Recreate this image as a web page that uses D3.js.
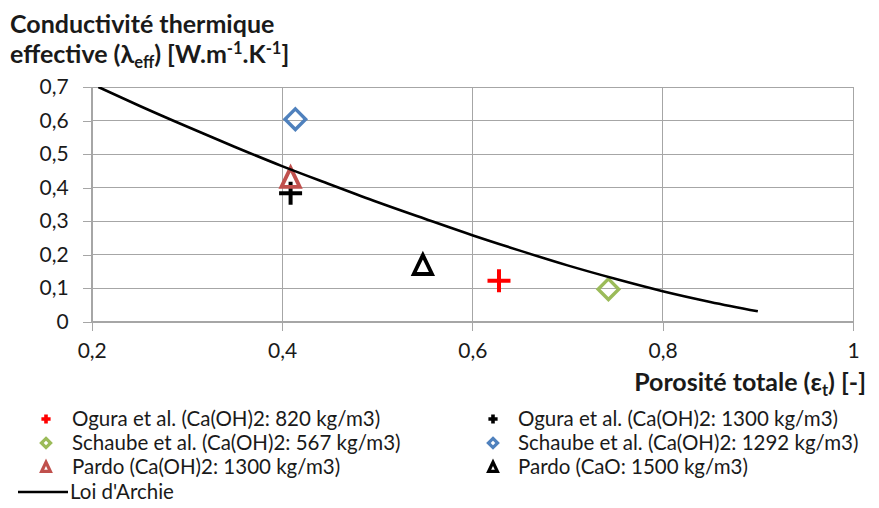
<!DOCTYPE html>
<html><head><meta charset="utf-8">
<script src="https://cdn.jsdelivr.net/npm/d3@7"></script>
<style>
html,body{margin:0;padding:0;background:#fff;}
svg{display:block;font-family:Lato, "Open Sans", sans-serif;}
</style></head>
<body>
<svg id="c" width="879" height="508"></svg>
<script>
// ---- data ----
const xTicks = [0.2, 0.4, 0.6, 0.8, 1];
const yTicks = [0, 0.1, 0.2, 0.3, 0.4, 0.5, 0.6, 0.7];

const seriesNames = [
  "Ogura et al. (Ca(OH)2: 820 kg/m3)",
  "Ogura et al. (Ca(OH)2: 1300 kg/m3)",
  "Schaube et al. (Ca(OH)2: 567 kg/m3)",
  "Schaube et al. (Ca(OH)2: 1292 kg/m3)",
  "Pardo (Ca(OH)2: 1300 kg/m3)",
  "Pardo (CaO: 1500 kg/m3)"
];
const seriesX = [0.628, 0.409, 0.743, 0.414, 0.409, 0.548];
const seriesY = [0.122, 0.383, 0.097, 0.604, 0.429, 0.169];
const seriesShape = ["cross", "cross", "diamond", "diamond", "triangle", "triangle"];
const seriesColor = ["#FF0000", "#000000", "#9BBB59", "#4F81BD", "#C0504D", "#000000"];

const archieName = "Loi d'Archie";
const archieX = [0.207, 0.25, 0.30, 0.35, 0.40, 0.45, 0.50, 0.55, 0.60, 0.65, 0.70, 0.75, 0.80, 0.85, 0.90];
const archieY = [0.700, 0.644, 0.582, 0.522, 0.464, 0.410, 0.357, 0.307, 0.258, 0.212, 0.168, 0.128, 0.091, 0.059, 0.031];

const titleLine1 = "Conductivité thermique";
const xTitle = "Porosité totale";

// ---- chart ----
const svg = d3.select("#c");
const x = d3.scaleLinear().domain([0.2, 1]).range([91.7, 853]);
const y = d3.scaleLinear().domain([0, 0.7]).range([321.7, 87]);
const fmt = d => String(d).replace(".", ",");
const grid = "#A6A6A6";
const ink = "#1a1a1a";

// grid
svg.append("g").selectAll("line").data(yTicks).join("line")
  .attr("x1", x(0.2)).attr("x2", x(1)).attr("y1", d => y(d)).attr("y2", d => y(d))
  .attr("stroke", grid).attr("stroke-width", 1).attr("shape-rendering", "crispEdges");
svg.append("g").selectAll("line").data(xTicks).join("line")
  .attr("y1", y(0)).attr("y2", y(0.7)).attr("x1", d => x(d)).attr("x2", d => x(d))
  .attr("stroke", grid).attr("stroke-width", 1).attr("shape-rendering", "crispEdges");

// axes
const yAxis = svg.append("g").attr("transform", `translate(${x(0.2)},0)`)
  .call(d3.axisLeft(y).tickValues(yTicks).tickFormat(fmt).tickSize(9).tickPadding(14));
const xAxis = svg.append("g").attr("transform", `translate(0,${y(0)})`)
  .call(d3.axisBottom(x).tickValues(xTicks).tickFormat(fmt).tickSize(9).tickPadding(12));
[yAxis, xAxis].forEach(a => {
  a.select(".domain").attr("stroke", grid).attr("shape-rendering", "crispEdges");
  a.selectAll(".tick line").attr("stroke", grid).attr("shape-rendering", "crispEdges");
  a.selectAll(".tick text").attr("font-size", 21).attr("fill", ink)
    .attr("font-family", "Lato, sans-serif");
});
xAxis.selectAll(".tick text").attr("dy", "0.71em");

// clip
svg.append("clipPath").attr("id", "pa").append("rect")
  .attr("x", x(0.2)).attr("y", y(0.7)).attr("width", x(1) - x(0.2)).attr("height", y(0) - y(0.7));

// markers
function drawMarker(g, shape, color, s, sw) {
  if (shape === "cross") {
    g.append("path").attr("d", `M${-s},0H${s}M0,${-s}V${s}`)
      .attr("stroke", color).attr("stroke-width", sw).attr("fill", "none");
  } else if (shape === "diamond") {
    g.append("path").attr("d", `M0,${-s}L${s},0L0,${s}L${-s},0Z`)
      .attr("stroke", color).attr("stroke-width", sw).attr("fill", "none");
  } else {
    const h = s * 0.95;
    g.append("path").attr("d", `M0,${-h}L${s * 0.87},${h * 0.9}L${-s * 0.87},${h * 0.9}Z`)
      .attr("stroke", color).attr("stroke-width", sw).attr("fill", "none")
      .attr("stroke-linejoin", "miter");
  }
}
const plotSize = {cross: [11.5, 4], diamond: [10.3, 3.4], triangle: [10.5, 3.8]};
const legSize = {cross: [4.6, 3.6], diamond: [4.6, 3.2], triangle: [5, 3.2]};

const ptsG = svg.append("g");
seriesNames.forEach((n, i) => {
  const g = ptsG.append("g").attr("transform", `translate(${x(seriesX[i])},${y(seriesY[i])})`);
  const [s, sw] = plotSize[seriesShape[i]];
  drawMarker(g, seriesShape[i], seriesColor[i], s, sw);
});

// Archie line
const line = d3.line().x((d, i) => x(archieX[i])).y((d, i) => y(archieY[i])).curve(d3.curveMonotoneX);
svg.append("path").datum(archieX).attr("d", line).attr("clip-path", "url(#pa)")
  .attr("fill", "none").attr("stroke", "#000").attr("stroke-width", 2.6);

// titles
const fsT = 25, fsSub = 16.5;
const t = svg.append("text").attr("font-weight", "bold").attr("font-size", fsT).attr("fill", ink);
t.append("tspan").attr("x", 10).attr("y", 33).text(titleLine1);
const t2 = svg.append("text").attr("x", 10).attr("y", 63).attr("font-weight", "bold").attr("font-size", fsT).attr("fill", ink);
t2.append("tspan").text("effective (λ");
t2.append("tspan").attr("font-size", fsSub).attr("dy", 5).text("eff");
t2.append("tspan").attr("dy", -5).text(") [W.m");
t2.append("tspan").attr("font-size", fsSub).attr("dy", -9).text("-1");
t2.append("tspan").attr("dy", 9).text(".K");
t2.append("tspan").attr("font-size", fsSub).attr("dy", -9).text("-1");
t2.append("tspan").attr("dy", 9).text("]");

const xt = svg.append("text").attr("x", 866).attr("y", 391).attr("text-anchor", "end")
  .attr("font-weight", "bold").attr("font-size", fsT).attr("fill", ink);
xt.append("tspan").text(xTitle + " (ε");
xt.append("tspan").attr("font-size", fsSub).attr("dy", 5).text("t");
xt.append("tspan").attr("dy", -5).text(") [-]");

// legend
const legG = svg.append("g").attr("font-size", 20.5).attr("fill", ink);
const colMarkX = [46, 493], colTextX = [72, 518];
const rowY = [419, 443, 467, 492];
seriesNames.forEach((n, i) => {
  const col = i % 2, row = Math.floor(i / 2);
  const g = legG.append("g").attr("transform", `translate(${colMarkX[col]},${rowY[row]})`);
  const [s, sw] = legSize[seriesShape[i]];
  drawMarker(g, seriesShape[i], seriesColor[i], s, sw);
  legG.append("text").attr("x", colTextX[col]).attr("y", rowY[row]).attr("dy", "0.35em").text(n);
});
legG.append("line").attr("x1", 18).attr("x2", 68).attr("y1", rowY[3]).attr("y2", rowY[3])
  .attr("stroke", "#000").attr("stroke-width", 2.6);
legG.append("text").attr("x", 70).attr("y", rowY[3]).attr("dy", "0.35em").text(archieName);
</script>
</body></html>
